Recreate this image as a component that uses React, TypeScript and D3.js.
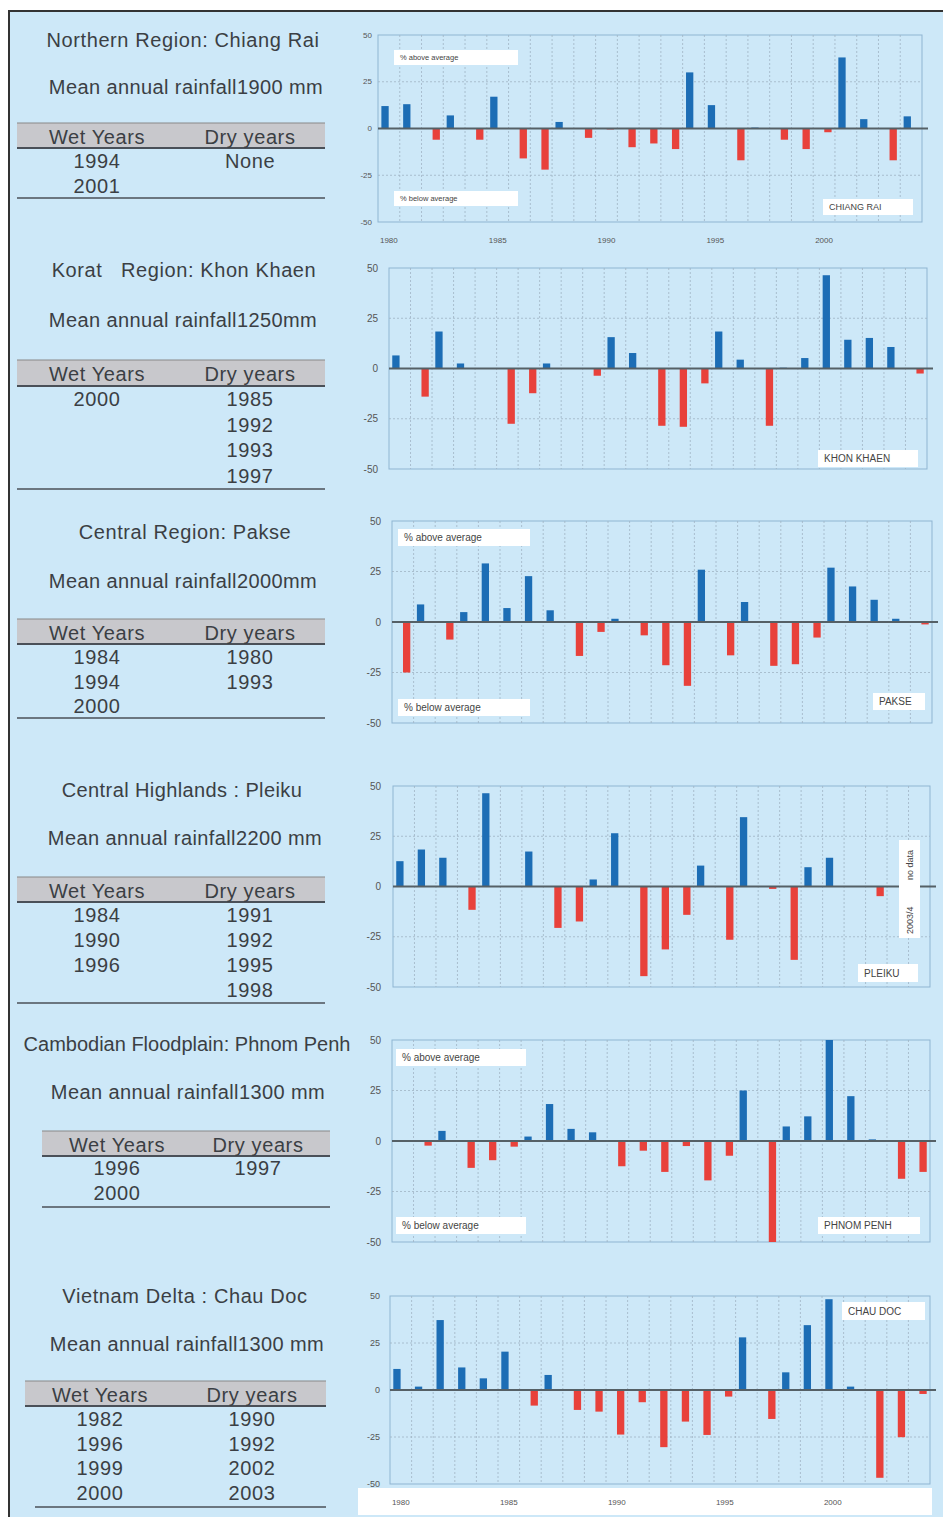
import React from "react";
import * as d3 from "d3";

const YEARS = [1980, 1981, 1982, 1983, 1984, 1985, 1986, 1987, 1988, 1989, 1990, 1991, 1992, 1993, 1994, 1995, 1996, 1997, 1998, 1999, 2000, 2001, 2002, 2003, 2004];
const X_TICK_YEARS = [1980, 1985, 1990, 1995, 2000];
const Y_TICKS = [50, 25, 0, -25, -50];

const CHIANG_RAI = [12, 13, -6, 7, -6, 17, -16, -22, 3.5, -5, -0.5, -10, -8, -11, 30, 12.5, -17, 0.5, -6, -11, -2, 38, 5, -17, 6.5];
const KHON_KHAEN = [6.5, -14, 18.4, 2.5, 0, -27.5, -12.3, 2.5, 0, -3.6, 15.6, 7.7, -28.5, -29, -7.4, 18.4, 4.4, -28.5, 0.4, 5.2, 46.4, 14.3, 15.2, 10.7, -2.5];
const PAKSE = [-25, 8.7, -8.7, 4.9, 29, 6.9, 22.7, 5.8, -16.8, -4.9, 1.6, -6.6, -21.4, -31.6, 25.9, -16.5, 9.9, -21.7, -20.9, -7.7, 26.9, 17.6, 11, 1.6, -1.2];
const PLEIKU = [12.6, 18.4, 14.3, -11.6, 46.4, 0, 17.4, -20.6, -17.4, 3.5, 26.5, -44.6, -31.3, -14.1, 10.4, -26.5, 34.5, -1.2, -36.5, 9.6, 14.3, 0, -4.8, null, null];
const PHNOM_PENH = [0, -2.3, 5, -13.3, -9.5, -2.8, 2.2, 18.3, 6, 4.3, -12.5, -4.8, -15.3, -2.5, -19.5, -7.3, 25, -50, 7.2, 12.2, 50, 22.2, 0.8, -18.7, -15.3];
const CHAU_DOC = [11.2, 1.8, 37.2, 12, 6.2, 20.4, -8.3, 8, -10.6, -11.5, -23.7, -6.5, -30.4, -16.8, -23.9, -3.5, 28, -15.4, 9.4, 34.5, 48.3, 1.8, -46.7, -25.1, -2.1];

const TITLES = [
  "Northern Region: Chiang Rai",
  "Korat\u00a0\u00a0\u00a0Region: Khon Khaen",
  "Central Region: Pakse",
  "Central Highlands : Pleiku",
  "Cambodian Floodplain: Phnom Penh",
  "Vietnam Delta : Chau Doc",
];
const MEANS = [
  "Mean annual rainfall1900 mm",
  "Mean annual rainfall1250mm",
  "Mean annual rainfall2000mm",
  "Mean annual rainfall2200 mm",
  "Mean annual rainfall1300 mm",
  "Mean annual rainfall1300 mm",
];
const WET_YEARS = [
  ["1994", "2001"],
  ["2000"],
  ["1984", "1994", "2000"],
  ["1984", "1990", "1996"],
  ["1996", "2000"],
  ["1982", "1996", "1999", "2000"],
];
const DRY_YEARS = [
  ["None"],
  ["1985", "1992", "1993", "1997"],
  ["1980", "1993"],
  ["1991", "1992", "1995", "1998"],
  ["1997"],
  ["1990", "1992", "2002", "2003"],
];
const STATIONS = ["CHIANG RAI", "KHON KHAEN", "PAKSE", "PLEIKU", "PHNOM PENH", "CHAU DOC"];
const SERIES = [CHIANG_RAI, KHON_KHAEN, PAKSE, PLEIKU, PHNOM_PENH, CHAU_DOC];

type Box = { x: number; y: number; w: number; h: number; fs: number };
type ChartLayout = {
  x0: number; x1: number; y0: number; y1: number;
  tickFs: number; tickX: number;
  xLabelsY?: number; xStrip?: boolean;
  above?: Box; below?: Box; station: Box; noData?: Box;
};
type TextLayout = {
  titleY: number; titleX: number; titleSpacing: number; meanY: number; meanX: number;
  hx0: number; hx1: number; hy0: number; hy1: number;
  wetX: number; dryX: number; rowY: number; rowStep: number;
  lineY: number; lx0: number; lx1: number;
};

const CHART_LAYOUT: ChartLayout[] = [
  { x0: 378, x1: 922, y0: 35, y1: 222, tickFs: 8, tickX: 372, xLabelsY: 240,
    above: { x: 394, y: 50, w: 124, h: 15, fs: 7.5 }, below: { x: 394, y: 191, w: 124, h: 15, fs: 7.5 },
    station: { x: 823, y: 199, w: 90, h: 16, fs: 9 } },
  { x0: 389, x1: 927, y0: 268, y1: 469, tickFs: 10, tickX: 378,
    station: { x: 818, y: 450, w: 100, h: 17, fs: 10 } },
  { x0: 392, x1: 932, y0: 521, y1: 723, tickFs: 10, tickX: 381,
    above: { x: 398, y: 529, w: 132, h: 17, fs: 10 }, below: { x: 398, y: 699, w: 132, h: 17, fs: 10 },
    station: { x: 873, y: 693, w: 52, h: 17, fs: 10 } },
  { x0: 393, x1: 930, y0: 786, y1: 987, tickFs: 10, tickX: 381,
    station: { x: 858, y: 964, w: 60, h: 18, fs: 10 },
    noData: { x: 899, y: 840, w: 21, h: 98, fs: 9 } },
  { x0: 392, x1: 930, y0: 1040, y1: 1242, tickFs: 10, tickX: 381,
    above: { x: 396, y: 1049, w: 130, h: 17, fs: 10 }, below: { x: 396, y: 1217, w: 130, h: 17, fs: 10 },
    station: { x: 818, y: 1217, w: 102, h: 17, fs: 10 } },
  { x0: 390, x1: 930, y0: 1296, y1: 1484, tickFs: 9, tickX: 380, xLabelsY: 1502, xStrip: true,
    station: { x: 842, y: 1302, w: 83, h: 18, fs: 10 } },
];

const TEXT_LAYOUT: TextLayout[] = [
  { titleY: 40, titleX: 183, titleSpacing: 0.6, meanY: 87, meanX: 186, hx0: 17, hx1: 325, hy0: 123, hy1: 148, wetX: 97, dryX: 250, rowY: 161, rowStep: 25, lineY: 198, lx0: 17, lx1: 325 },
  { titleY: 270, titleX: 184, titleSpacing: 0.6, meanY: 320, meanX: 183, hx0: 17, hx1: 325, hy0: 360, hy1: 386, wetX: 97, dryX: 250, rowY: 399, rowStep: 25.7, lineY: 489, lx0: 17, lx1: 325 },
  { titleY: 532, titleX: 185, titleSpacing: 0.6, meanY: 581, meanX: 183, hx0: 17, hx1: 325, hy0: 619, hy1: 644, wetX: 97, dryX: 250, rowY: 657, rowStep: 24.5, lineY: 718, lx0: 17, lx1: 325 },
  { titleY: 790, titleX: 182, titleSpacing: 0.4, meanY: 838, meanX: 185, hx0: 17, hx1: 325, hy0: 877, hy1: 902, wetX: 97, dryX: 250, rowY: 915, rowStep: 25, lineY: 1003, lx0: 17, lx1: 325 },
  { titleY: 1044, titleX: 187, titleSpacing: 0, meanY: 1092, meanX: 188, hx0: 42, hx1: 330, hy0: 1131, hy1: 1156, wetX: 117, dryX: 258, rowY: 1168, rowStep: 25, lineY: 1207, lx0: 42, lx1: 330 },
  { titleY: 1296, titleX: 185, titleSpacing: 0.6, meanY: 1344, meanX: 187, hx0: 25, hx1: 326, hy0: 1381, hy1: 1406, wetX: 100, dryX: 252, rowY: 1419, rowStep: 24.5, lineY: 1507, lx0: 35, lx1: 326 },
];

const BG = "#cde8f8";
const BLUE = "#1c6db5";
const RED = "#e8413b";
const TEXT = "#3b3f44";
const FONT = "'Liberation Sans', Arial, sans-serif";

function LabelBox({ b, text }: { b: Box; text: string }) {
  return (
    <g>
      <rect x={b.x} y={b.y} width={b.w} height={b.h} fill="#ffffff" />
      <text x={b.x + 6} y={b.y + b.h / 2} dominantBaseline="central" fontSize={b.fs} fill="#444" fontFamily={FONT}>{text}</text>
    </g>
  );
}

function Chart({ values, L, station }: { values: (number | null)[]; L: ChartLayout; station: string }) {
  const x = d3.scaleBand<number>().domain(YEARS).range([L.x0, L.x1]).paddingInner(0);
  const bw = x.bandwidth();
  const sub = d3.scaleBand<string>().domain(["wet", "dry"]).range([bw / 2 - 7.5, bw / 2 + 7.5]).paddingInner(0.05);
  const y = d3.scaleLinear().domain([-50, 50]).range([L.y1, L.y0]);
  return (
    <g>
      {L.xStrip && <rect x={358} y={1488} width={574} height={27} fill="#ffffff" />}
      <rect x={L.x0} y={L.y0} width={L.x1 - L.x0} height={L.y1 - L.y0} fill={BG} stroke="#8fb5d2" strokeWidth={1} />
      {YEARS.slice(1).map((yr) => (
        <line key={yr} x1={x(yr)!} x2={x(yr)!} y1={L.y0} y2={L.y1} stroke="#9fb4c4" strokeWidth={0.8} strokeDasharray="2,2" />
      ))}
      {[25, -25].map((t) => (
        <line key={t} x1={L.x0} x2={L.x1} y1={y(t)} y2={y(t)} stroke="#9fb4c4" strokeWidth={0.8} strokeDasharray="2,2" />
      ))}
      {Y_TICKS.map((t) => (
        <text key={t} x={L.tickX} y={y(t)} textAnchor="end" dominantBaseline="central" fontSize={L.tickFs} fill="#555" fontFamily={FONT}>{t}</text>
      ))}
      {values.map((v, i) => {
        if (v === null || v === 0) return null;
        const yr = YEARS[i];
        const pos = v > 0;
        const bx = x(yr)! + sub(pos ? "wet" : "dry")!;
        return (
          <rect key={yr} x={bx} width={sub.bandwidth()} y={pos ? y(v) : y(0)} height={Math.abs(y(v) - y(0))} fill={pos ? BLUE : RED} />
        );
      })}
      <line x1={L.x0} x2={L.x1 + 6} y1={y(0)} y2={y(0)} stroke="#556066" strokeWidth={2} />
      {L.xLabelsY !== undefined && X_TICK_YEARS.map((yr) => (
        <text key={yr} x={x(yr)! + bw / 2} y={L.xLabelsY} textAnchor="middle" dominantBaseline="central" fontSize={8} fill="#555" fontFamily={FONT}>{yr}</text>
      ))}
      {L.above && <LabelBox b={L.above} text="% above average" />}
      {L.below && <LabelBox b={L.below} text="% below average" />}
      <LabelBox b={L.station} text={station} />
      {L.noData && (
        <g>
          <rect x={L.noData.x} y={L.noData.y} width={L.noData.w} height={L.noData.h} fill="#ffffff" />
          <text transform={`translate(${L.noData.x + L.noData.w / 2},${L.noData.y + L.noData.h - 4}) rotate(-90)`} dominantBaseline="central" fontSize={L.noData.fs} fill="#444" fontFamily={FONT} textAnchor="start">2003/4</text>
          <text transform={`translate(${L.noData.x + L.noData.w / 2},${L.noData.y + 40}) rotate(-90)`} dominantBaseline="central" fontSize={L.noData.fs} fill="#444" fontFamily={FONT} textAnchor="start">no data</text>
        </g>
      )}
    </g>
  );
}

function TextBlock({ i, T }: { i: number; T: TextLayout }) {
  const fs = 20;
  return (
    <g fontFamily={FONT} fill={TEXT} fontSize={fs} letterSpacing={0.6}>
      <text x={T.titleX} y={T.titleY} textAnchor="middle" dominantBaseline="central" letterSpacing={T.titleSpacing}>{TITLES[i]}</text>
      <text x={T.meanX} y={T.meanY} textAnchor="middle" dominantBaseline="central" letterSpacing={0.4}>{MEANS[i]}</text>
      <rect x={T.hx0} y={T.hy0} width={T.hx1 - T.hx0} height={T.hy1 - T.hy0} fill="#c8c8cc" />
      <line x1={T.hx0} x2={T.hx1} y1={T.hy0} y2={T.hy0} stroke="#888" strokeWidth={1} />
      <line x1={T.hx0} x2={T.hx1} y1={T.hy1} y2={T.hy1} stroke="#4a5058" strokeWidth={2} />
      <text x={T.wetX} y={(T.hy0 + T.hy1) / 2 + 1} textAnchor="middle" dominantBaseline="central">Wet Years</text>
      <text x={T.dryX} y={(T.hy0 + T.hy1) / 2 + 1} textAnchor="middle" dominantBaseline="central">Dry years</text>
      {WET_YEARS[i].map((w, k) => (
        <text key={"w" + k} x={T.wetX} y={T.rowY + k * T.rowStep} textAnchor="middle" dominantBaseline="central">{w}</text>
      ))}
      {DRY_YEARS[i].map((d, k) => (
        <text key={"d" + k} x={T.dryX} y={T.rowY + k * T.rowStep} textAnchor="middle" dominantBaseline="central">{d}</text>
      ))}
      <line x1={T.lx0} x2={T.lx1} y1={T.lineY} y2={T.lineY} stroke="#4a5058" strokeWidth={1.5} />
    </g>
  );
}

export default function App() {
  return (
    <svg width={943} height={1517} style={{ position: "absolute", left: 0, top: 0, background: "#ffffff" }}>
      <rect x={8} y={10} width={935} height={1507} fill={BG} />
      <line x1={9} x2={9} y1={10} y2={1517} stroke="#333" strokeWidth={2} />
      <line x1={8} x2={943} y1={11} y2={11} stroke="#333" strokeWidth={2} />
      {SERIES.map((s, i) => (
        <g key={i}>
          <TextBlock i={i} T={TEXT_LAYOUT[i]} />
          <Chart values={s} L={CHART_LAYOUT[i]} station={STATIONS[i]} />
        </g>
      ))}
    </svg>
  );
}
